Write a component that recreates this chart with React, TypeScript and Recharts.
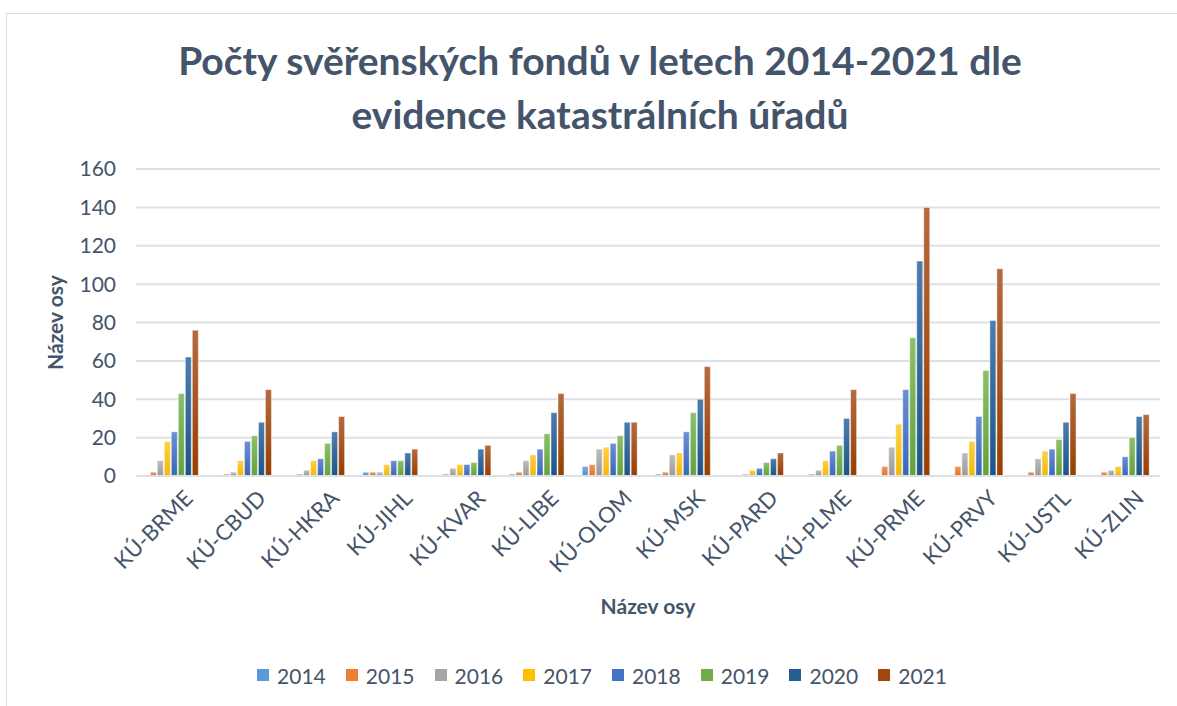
import React from 'react';
import { BarChart, Bar, XAxis, YAxis, CartesianGrid, Legend, Label } from 'recharts';

const categories = ['KÚ-BRME', 'KÚ-CBUD', 'KÚ-HKRA', 'KÚ-JIHL', 'KÚ-KVAR', 'KÚ-LIBE', 'KÚ-OLOM', 'KÚ-MSK', 'KÚ-PARD', 'KÚ-PLME', 'KÚ-PRME', 'KÚ-PRVY', 'KÚ-USTL', 'KÚ-ZLIN'];
const years = ['2014', '2015', '2016', '2017', '2018', '2019', '2020', '2021'];
const v2014 = [0, 0, 0, 2, 0, 1, 5, 1, 0, 0, 0, 0, 0, 0];
const v2015 = [2, 1, 1, 2, 1, 2, 6, 2, 0, 1, 5, 5, 2, 2];
const v2016 = [8, 2, 3, 2, 4, 8, 14, 11, 1, 3, 15, 12, 9, 3];
const v2017 = [18, 8, 8, 6, 6, 11, 15, 12, 3, 8, 27, 18, 13, 5];
const v2018 = [23, 18, 9, 8, 6, 14, 17, 23, 4, 13, 45, 31, 14, 10];
const v2019 = [43, 21, 17, 8, 7, 22, 21, 33, 7, 16, 72, 55, 19, 20];
const v2020 = [62, 28, 23, 12, 14, 33, 28, 40, 9, 30, 112, 81, 28, 31];
const v2021 = [76, 45, 31, 14, 16, 43, 28, 57, 12, 45, 140, 108, 43, 32];
const yTicks = [0, 20, 40, 60, 80, 100, 120, 140, 160];

const seriesValues = [v2014, v2015, v2016, v2017, v2018, v2019, v2020, v2021];
const colors = ['#5B9BD5', '#ED7D31', '#A5A5A5', '#FFC000', '#4472C4', '#70AD47', '#255E91', '#9E480E'];
const topColors = ['#7DB1E0', '#F29A5E', '#BDBDBD', '#FFD045', '#6A8FD3', '#8CC06A', '#4D7DAD', '#B56A3F'];
const botColors = ['#4E8FCB', '#E56F1E', '#989898', '#F2B800', '#3A66B8', '#62A23C', '#1D5487', '#983E00'];

const data = categories.map((name, i) => {
  const row: any = { name };
  years.forEach((y, k) => { row[y] = seriesValues[k][i]; });
  return row;
});

const textColor = '#44546A';
const font = 'Lato, "Open Sans", sans-serif';

const XTick = (props: any) => {
  const { x, y, payload } = props;
  return (
    <g transform={`translate(${x + 16},${y + 10})`}>
      <text transform="rotate(-45)" textAnchor="end" dy={8} fontSize={22} fill={textColor} fontFamily={font}>
        {payload.value}
      </text>
    </g>
  );
};

const LegendContent = () => (
  <div style={{ display: 'flex', justifyContent: 'center', alignItems: 'center', height: 30, fontFamily: font, fontSize: 21, color: textColor, paddingRight: 12 }}>
    {years.map((y, k) => (
      <div key={y} style={{ display: 'flex', alignItems: 'center', marginRight: 20 }}>
        <span style={{ display: 'inline-block', width: 12, height: 12, background: colors[k], marginRight: 8 }} />
        <span>{y}</span>
      </div>
    ))}
  </div>
);

export default function App() {
  return (
    <div style={{ position: 'absolute', left: 0, top: 0, width: 1177, height: 706, background: '#fff', overflow: 'hidden' }}>
      <div style={{ position: 'absolute', left: 6, top: 13, width: 1180, height: 700, border: '1.5px solid #d9dde2' }} />
      <div style={{ position: 'absolute', left: 0, top: 33, width: 1200, textAlign: 'center', fontFamily: font, fontWeight: 700, fontSize: 39, lineHeight: '54px', color: textColor }}>
        Počty svěřenských fondů v letech 2014-2021 dle<br />evidence katastrálních úřadů
      </div>
      <div style={{ position: 'absolute', left: 0, top: 0 }}>
        <BarChart width={1177} height={706} data={data} margin={{ top: 169, right: 17, bottom: 16, left: 76 }} barCategoryGap="10%" barGap={1}>
          <defs>
            {years.map((y, k) => (
              <linearGradient key={y} id={`g${y}`} x1="0" y1="0" x2="0" y2="1">
                <stop offset="0%" stopColor={topColors[k]} />
                <stop offset="100%" stopColor={botColors[k]} />
              </linearGradient>
            ))}
          </defs>
          <CartesianGrid vertical={false} stroke="#dde1e6" strokeWidth={2} />
          <XAxis dataKey="name" interval={0} height={184} tick={<XTick />} tickLine={false} axisLine={{ stroke: '#dde1e6', strokeWidth: 2 }}>
            <Label value="Název osy" position="insideBottom" offset={46} style={{ fontFamily: font, fontWeight: 700, fontSize: 21, fill: textColor }} />
          </XAxis>
          <YAxis width={60} domain={[0, 160]} ticks={yTicks} interval={0} tickLine={false} axisLine={false} tickMargin={14}
            tick={{ fontSize: 21, fill: textColor, fontFamily: font }}>
            <Label value="Název osy" angle={-90} position="insideLeft" offset={-20} style={{ fontFamily: font, fontWeight: 700, fontSize: 21, fill: textColor, textAnchor: 'middle' }} />
          </YAxis>
          <Legend verticalAlign="bottom" content={<LegendContent />} />
          {years.map((y, k) => (
            <Bar key={y} dataKey={y} fill={`url(#g${y})`} stroke="rgba(255,255,255,0.55)" strokeWidth={0.8} isAnimationActive={false} />
          ))}
        </BarChart>
      </div>
    </div>
  );
}
